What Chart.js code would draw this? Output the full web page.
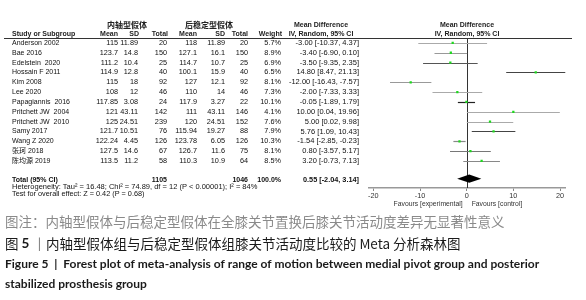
<!DOCTYPE html>
<html>
<head>
<meta charset="utf-8">
<script src="https://cdn.jsdelivr.net/npm/chart.js@4/dist/chart.umd.min.js"></script>
<style>
  body { margin: 0; background: #fff; }
</style>
</head>
<body>
<canvas id="forest" width="586" height="300"></canvas>
<script>
// study rows
const studies = ['Anderson 2002', 'Bae 2016', 'Edelstein  2020', 'Hossain F 2011', 'Kim 2008', 'Lee 2020',
  'Papagiannis  2016', 'Pritchett JW  2004', 'Pritchett JW  2010', 'Samy 2017', 'Wang Z 2020', '张珂 2018', '陈均源 2019']
const expMean = [115, 123.7, 111.2, 114.9, 115, 108, 117.85, 121, 125, 121.7, 122.24, 127.5, 113.5]
const expSD = [11.89, 14.8, 10.4, 12.8, 18, 12, 3.08, 43.11, 24.51, 10.51, 4.45, 14.6, 11.2]
const expN = [20, 150, 25, 40, 92, 46, 24, 142, 239, 76, 126, 67, 58]
const ctlMean = [118, 127.1, 114.7, 100.1, 127, 110, 117.9, 111, 120, 115.94, 123.78, 126.7, 110.3]
const ctlSD = [11.89, 16.1, 10.7, 15.9, 12.1, 14, 3.27, 43.11, 24.51, 19.27, 6.05, 11.6, 10.9]
const ctlN = [20, 150, 25, 40, 92, 46, 22, 146, 152, 88, 126, 75, 64]
const weights = [5.7, 8.9, 6.9, 6.5, 8.1, 7.3, 10.1, 4.1, 7.6, 7.9, 10.3, 8.1, 8.5]
const meanDiff = [-3.00, -3.40, -3.50, 14.80, -12.00, -2.00, -0.05, 10.00, 5.00, 5.76, -1.54, 0.80, 3.20]
const ciLow = [-10.37, -6.90, -9.35, 8.47, -16.43, -7.33, -1.89, 0.04, 0.02, 1.09, -2.85, -3.57, -0.73]
const ciHigh = [4.37, 0.10, 2.35, 21.13, -7.57, 3.33, 1.79, 19.96, 9.98, 10.43, -0.23, 5.17, 7.13]

// pooled result
const totalN = [1105, 1046]
const pooled = [0.55, -2.04, 3.14]
const xTicks = [-20, -10, 0, 10, 20]

// line shade per row (the picture has lighter and darker CI lines)
const ciColor = ['#aaa', '#999', '#555', '#444', '#999', '#aaa', '#222', '#aaa', '#aaa', '#444', '#888', '#777', '#888']

const totalRow = 13.8
const F = '"Liberation Sans", Arial, "Noto Sans CJK SC"'

function txt (ctx, s, x, y, align, font, color, maxW) {
  ctx.font = font
  ctx.textAlign = align
  ctx.textBaseline = 'middle'
  ctx.fillStyle = color || '#111'
  if (maxW) ctx.fillText(s, x, y, maxW)
  else ctx.fillText(s, x, y)
}

const forestPlugin = {
  id: 'forest',
  beforeDatasetsDraw (chart) {
    const { ctx, chartArea, scales: { x, y } } = chart
    ctx.save()
    const x0 = Math.round(x.getPixelForValue(0)) + 0.5
    ctx.strokeStyle = '#333'
    ctx.lineWidth = 1
    ctx.beginPath()
    ctx.moveTo(x0, chartArea.top)
    ctx.lineTo(x0, chartArea.bottom)
    ctx.stroke()
    ciLow.forEach((lo, i) => {
      const py = Math.round(y.getPixelForValue(i)) + 0.5
      ctx.strokeStyle = ciColor[i]
      ctx.lineWidth = 1.2
      ctx.beginPath()
      ctx.moveTo(x.getPixelForValue(lo), py)
      ctx.lineTo(x.getPixelForValue(ciHigh[i]), py)
      ctx.stroke()
    })
    ctx.restore()
  },
  afterDatasetsDraw (chart) {
    const { ctx, scales: { x, y } } = chart
    const py = y.getPixelForValue(totalRow)
    const h = y.getPixelForValue(totalRow + 0.42) - py
    ctx.save()
    ctx.fillStyle = '#000'
    ctx.beginPath()
    ctx.moveTo(x.getPixelForValue(pooled[1]), py)
    ctx.lineTo(x.getPixelForValue(pooled[0]), py - h)
    ctx.lineTo(x.getPixelForValue(pooled[2]), py)
    ctx.lineTo(x.getPixelForValue(pooled[0]), py + h)
    ctx.closePath()
    ctx.fill()
    ctx.restore()
  },
  afterDraw (chart) {
    const { ctx, chartArea, scales: { x, y } } = chart
    ctx.save()
    const f = '7px ' + F
    const n = '7.3px ' + F
    const b = 'bold 7px ' + F

    // header rows
    txt(ctx, '内轴型假体', 127, 25, 'center', 'bold 8px "Noto Sans CJK SC"', '#222')
    txt(ctx, '后稳定型假体', 209, 25, 'center', 'bold 8px "Noto Sans CJK SC"', '#222')
    txt(ctx, 'Mean Difference', 321, 25, 'center', b, '#222')
    txt(ctx, 'Mean Difference', 467, 25, 'center', b, '#222')
    const hy = 34.5
    txt(ctx, 'Study or Subgroup', 12, hy, 'left', b, '#222')
    txt(ctx, 'Mean', 118, hy, 'right', b, '#222')
    txt(ctx, 'SD', 139, hy, 'right', b, '#222')
    txt(ctx, 'Total', 168, hy, 'right', b, '#222')
    txt(ctx, 'Mean', 197, hy, 'right', b, '#222')
    txt(ctx, 'SD', 225, hy, 'right', b, '#222')
    txt(ctx, 'Total', 248, hy, 'right', b, '#222')
    txt(ctx, 'Weight', 282, hy, 'right', b, '#222')
    txt(ctx, 'IV, Random, 95% CI', 321, hy, 'center', b, '#222')
    txt(ctx, 'IV, Random, 95% CI', 467, hy, 'center', b, '#222')
    ctx.strokeStyle = '#333'
    ctx.lineWidth = 1
    ctx.beginPath()
    ctx.moveTo(4, 38.5)
    ctx.lineTo(572, 38.5)
    ctx.stroke()

    // study rows
    studies.forEach((s, i) => {
      const py = y.getPixelForValue(i)
      txt(ctx, s, 12, py, 'left', f)
      txt(ctx, String(expMean[i]), 118, py, 'right', n)
      txt(ctx, String(expSD[i]), 138, py, 'right', n)
      txt(ctx, String(expN[i]), 167, py, 'right', n)
      txt(ctx, String(ctlMean[i]), 197, py, 'right', n)
      txt(ctx, String(ctlSD[i]), 225, py, 'right', n)
      txt(ctx, String(ctlN[i]), 248, py, 'right', n)
      txt(ctx, weights[i].toFixed(1) + '%', 281, py, 'right', n)
      txt(ctx, meanDiff[i].toFixed(2) + ' [' + ciLow[i].toFixed(2) + ', ' + ciHigh[i].toFixed(2) + ']', 359, py, 'right', '7.5px ' + F)
    })

    // total rows
    const ty = y.getPixelForValue(totalRow) + 1
    txt(ctx, 'Total (95% CI)', 12, ty, 'left', b)
    txt(ctx, String(totalN[0]), 167, ty, 'right', b)
    txt(ctx, String(totalN[1]), 248, ty, 'right', b)
    txt(ctx, '100.0%', 281, ty, 'right', b)
    txt(ctx, pooled[0].toFixed(2) + ' [' + pooled[1].toFixed(2) + ', ' + pooled[2].toFixed(2) + ']', 359, ty, 'right', 'bold 7.3px ' + F)
    txt(ctx, 'Heterogeneity: Tau² = 16.48; Chi² = 74.89, df = 12 (P < 0.00001); I² = 84%', 12, ty + 7.5, 'left', '7.5px ' + F)
    txt(ctx, 'Test for overall effect: Z = 0.42 (P = 0.68)', 12, ty + 14, 'left', '7.3px ' + F)

    // favours labels
    const x0 = x.getPixelForValue(0)
    txt(ctx, 'Favours [experimental]', x0 - 4, chartArea.bottom + 16, 'right', '6.8px ' + F, '#333')
    txt(ctx, 'Favours [control]', x0 + 5, chartArea.bottom + 16, 'left', '6.8px ' + F, '#333')

    // captions
    txt(ctx, '图注：内轴型假体与后稳定型假体在全膝关节置换后膝关节活动度差异无显著性意义', 5, 222, 'left', '13.5px "Noto Sans CJK SC"', '#8a8a8a')
    ctx.font = '13.5px "Noto Sans CJK SC"'
    let cx = 5
    txt(ctx, '图 ', cx, 244, 'left', '13.5px "Noto Sans CJK SC"', '#1a1a1a')
    cx += ctx.measureText('图 ').width
    txt(ctx, '5', cx, 244, 'left', 'bold 13.5px Lato', '#1a1a1a')
    cx += ctx.measureText('5').width
    txt(ctx, ' ｜内轴型假体组与后稳定型假体组膝关节活动度比较的 Meta 分析森林图', cx, 244, 'left', '13.5px "Noto Sans CJK SC"', '#1a1a1a')
    txt(ctx, 'Figure 5  |  Forest plot of meta-analysis of range of motion between medial pivot group and posterior', 5, 264, 'left', 'bold 12px Lato', '#1a1a1a', 565)
    txt(ctx, 'stabilized prosthesis group', 5, 284, 'left', 'bold 12px Lato', '#1a1a1a', 147)
    ctx.restore()
  }
}

const chart = new Chart(
  document.getElementById('forest').getContext('2d'),
  {
    type: 'scatter',
    data: {
      datasets: [{
        data: meanDiff.map((v, i) => ({ x: v, y: i })),
        pointStyle: 'rect',
        pointRadius: 1.6,
        backgroundColor: '#1ed81e',
        borderWidth: 0
      }]
    },
    options: {
      responsive: false,
      animation: false,
      layout: { padding: { left: 368.7, right: 20.4, top: 38, bottom: 100 } },
      scales: {
        x: {
          type: 'linear',
          min: -21,
          max: 21.2,
          afterBuildTicks: (scale) => { scale.ticks = xTicks.map(v => ({ value: v })) },
          afterFit: (scale) => { scale.height = 12 },
          border: { color: '#999', width: 1.5 },
          grid: { drawOnChartArea: false, tickLength: 3, color: '#888' },
          ticks: { font: { size: 7.3, family: 'Liberation Sans' }, color: '#333', padding: 1, maxRotation: 0 }
        },
        y: {
          type: 'linear',
          display: false,
          reverse: true,
          min: -0.5,
          max: 14.75
        }
      },
      plugins: {
        legend: { display: false },
        tooltip: { enabled: false },
        title: { display: false }
      }
    },
    plugins: [forestPlugin]
  }
)
</script>
</body>
</html>
